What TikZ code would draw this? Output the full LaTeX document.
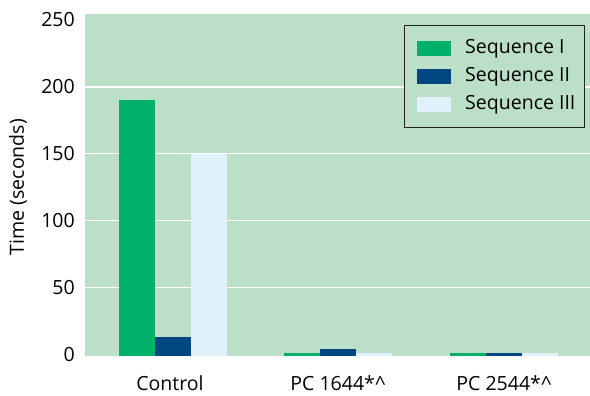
\documentclass[tikz,border=0pt]{standalone}
\usepackage{fontspec}
\setmainfont{Open Sans}
\definecolor{bgc}{RGB}{187,224,199}
\definecolor{seqA}{RGB}{0,176,107}
\definecolor{seqB}{RGB}{0,70,128}
\definecolor{seqC}{RGB}{224,241,251}
\definecolor{frame}{RGB}{35,35,35}
\tikzset{
  lbl/.style={font=\fontsize{19.6}{21}\selectfont, text=black, inner sep=0pt},
  ytick/.style={lbl, anchor=east},
  xtick/.style={lbl, anchor=base},
  grid/.style={white, line width=1.2bp},
  barA/.style={fill=seqA, draw=none},
  barB/.style={fill=seqB, draw=none},
  barC/.style={fill=seqC, draw=none},
}
\begin{document}
\begin{tikzpicture}[x=1bp, y=-1bp]
\useasboundingbox (0,0) rectangle (590,395);
% plot area
\fill[bgc] (85,14) rectangle (590,356);
% gridlines
\foreach \v in {50,100,150,200} {
  \draw[grid] (85,{354.5-1.338*\v}) -- (590,{354.5-1.338*\v});
}
% y tick labels
\foreach \v in {0,50,100,150,200,250} {
  \node[ytick] (t\v) at (75,{354.5-1.338*\v}) {\v};
}
% axis title
\node[lbl, rotate=90] (ytitle) at (18,187) {Time (seconds)};
% bars: groups at 119, 284, 450 ; bar width 36
\foreach \x/\a/\b/\c in {119/190/13/150, 284/1/4/1, 450/1/1/1} {
  \fill[barA] (\x,356) rectangle ({\x+36},{354.5-1.338*\a});
  \fill[barB] ({\x+36},356) rectangle ({\x+72},{354.5-1.338*\b});
  \fill[barC] ({\x+72},356) rectangle ({\x+108},{354.5-1.338*\c});
}
% category labels
\node[xtick] (c1) at (170,390) {Control};
\node[xtick] (c2) at (338,390) {PC 1644*\^{}};
\node[xtick] (c3) at (504,390) {PC 2544*\^{}};
% legend
\draw[frame, fill=bgc, line width=1bp] (404,25) rectangle (584,127);
\fill[seqA] (417,41) rectangle (451,55.5);
\fill[seqB] (417,69) rectangle (451,83.5);
\fill[seqC] (417,97) rectangle (451,111.5);
\node[lbl, anchor=west] (l1) at (465,48.5) {Sequence I};
\node[lbl, anchor=west] (l2) at (465,76.5) {Sequence II};
\node[lbl, anchor=west] (l3) at (465,104.5) {Sequence III};
\end{tikzpicture}
\end{document}
